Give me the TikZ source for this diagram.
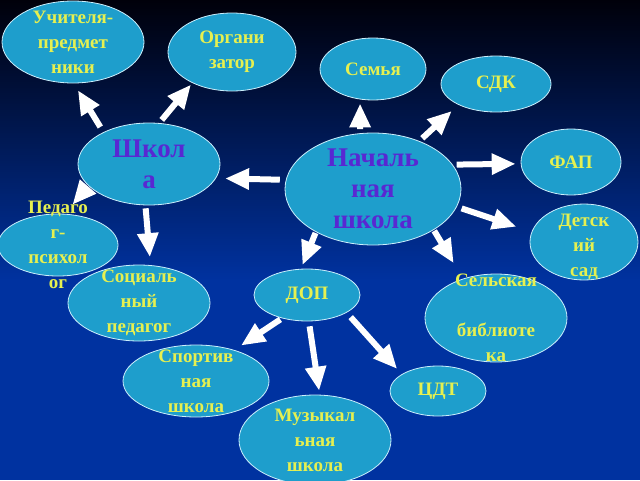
\documentclass[tikz,border=0pt]{standalone}
\usepackage{fontspec}
\setmainfont{Liberation Serif}
\usetikzlibrary{shapes.geometric,arrows.meta}

\definecolor{bubblefill}{RGB}{30,158,204}
\definecolor{bubbletext}{RGB}{230,240,80}
\definecolor{headtext}{RGB}{88,40,210}
\definecolor{skytop}{RGB}{0,0,10}
\definecolor{skybottom}{RGB}{0,50,160}

\begin{document}
\begin{tikzpicture}[x=1pt, y=-1pt,
    bubble/.style={ellipse, fill=bubblefill, draw=white!80!cyan, line width=0.8pt, inner sep=0pt},
    txt/.style={text=bubbletext, font=\bfseries\fontsize{19}{25}\selectfont, align=center},
    headtxt/.style={text=headtext, font=\bfseries\fontsize{27}{31}\selectfont, align=center},
    arrow/.style={white, line width=6pt, -{Triangle[width=20pt, length=24pt]}}]

  \useasboundingbox (0,0) rectangle (640,480);
  \shade[top color=skytop, bottom color=skybottom] (0,0) rectangle (640,281);
  \fill[skybottom] (0,280) rectangle (640,480);

  % outer ring of bubbles
  \node[bubble, minimum width=142, minimum height=82, label={[txt]center:{Учителя-\\предмет\\ники}}] (uchit) at (73,42) {};
  \node[bubble, minimum width=128, minimum height=78, label={[txt]center:{Органи\\затор}}] (organ) at (232,52) {};
  \node[bubble, minimum width=106, minimum height=62, label={[txt]center:Семья}] (semya) at (373,69) {};
  \node[bubble, minimum width=110, minimum height=56, label={[txt]center:СДК}] (sdk) at (496,84) {};
  \node[bubble, minimum width=100, minimum height=66, label={[txt]center:ФАП}] (fap) at (571,162) {};
  \node[bubble, minimum width=108, minimum height=76, label={[txt, yshift=-5pt]center:{Детск\\ий\\сад}}] (detsad) at (584,242) {};
  \node[bubble, minimum width=120, minimum height=62, label={[txt]center:{Педаго\\г-\\психол\\ог}}] (pedpsy) at (58,245) {};
  \node[bubble, minimum width=142, minimum height=76, label={[txt]center:{Социаль\\ный\\педагог}}] (social) at (139,303) {};
  \node[bubble, minimum width=142, minimum height=88, label={[txt]center:{Сельская\\[25pt]библиоте\\ка}}] (selbib) at (496,318) {};
  \node[bubble, minimum width=106, minimum height=52, label={[txt]center:ДОП}] (dop) at (307,295) {};
  \node[bubble, minimum width=146, minimum height=72, label={[txt]center:{Спортив\\ная\\школа}}] (sport) at (196,381) {};
  \node[bubble, minimum width=96, minimum height=50, label={[txt]center:ЦДТ}] (cdt) at (438,391) {};
  \node[bubble, minimum width=152, minimum height=90, label={[txt]center:{Музыкал\\ьная\\школа}}] (muz) at (315,440) {};

  % the two hubs
  \node[bubble, minimum width=142, minimum height=82, label={[headtxt]center:{Школ\\а}}] (shkola) at (149,164) {};
  \node[bubble, minimum width=176, minimum height=112, label={[headtxt]center:{Началь\\ная\\школа}}] (nach) at (373,189) {};

  % arrows: from/angle/to/angle/tail gap/head gap
  \foreach \a/\aa/\b/\bb/\s/\t in {shkola/145/uchit/-89/6pt/8pt, shkola/76/organ/218/4pt/2pt,
      nach/174/shkola/-12/6pt/9pt, shkola/200/pedpsy/78/3pt/12pt, shkola/-95/social/73/3pt/8pt,
      nach/103/semya/-113/4pt/4pt, nach/46/sdk/209/4pt/9pt, nach/17/fap/182/4pt/5pt,
      nach/-12/detsad/169/5pt/16pt, nach/-34/selbib/130/1pt/18pt, nach/217/dop/103/1pt/4pt,
      dop/223/sport/39/2pt/8pt, dop/-86/muz/84/5pt/4pt, dop/-24/cdt/155/6pt/7pt}{
    \draw[arrow, shorten <=\s, shorten >=\t] (\a.\aa) -- (\b.\bb);
  }
\end{tikzpicture}
\end{document}
